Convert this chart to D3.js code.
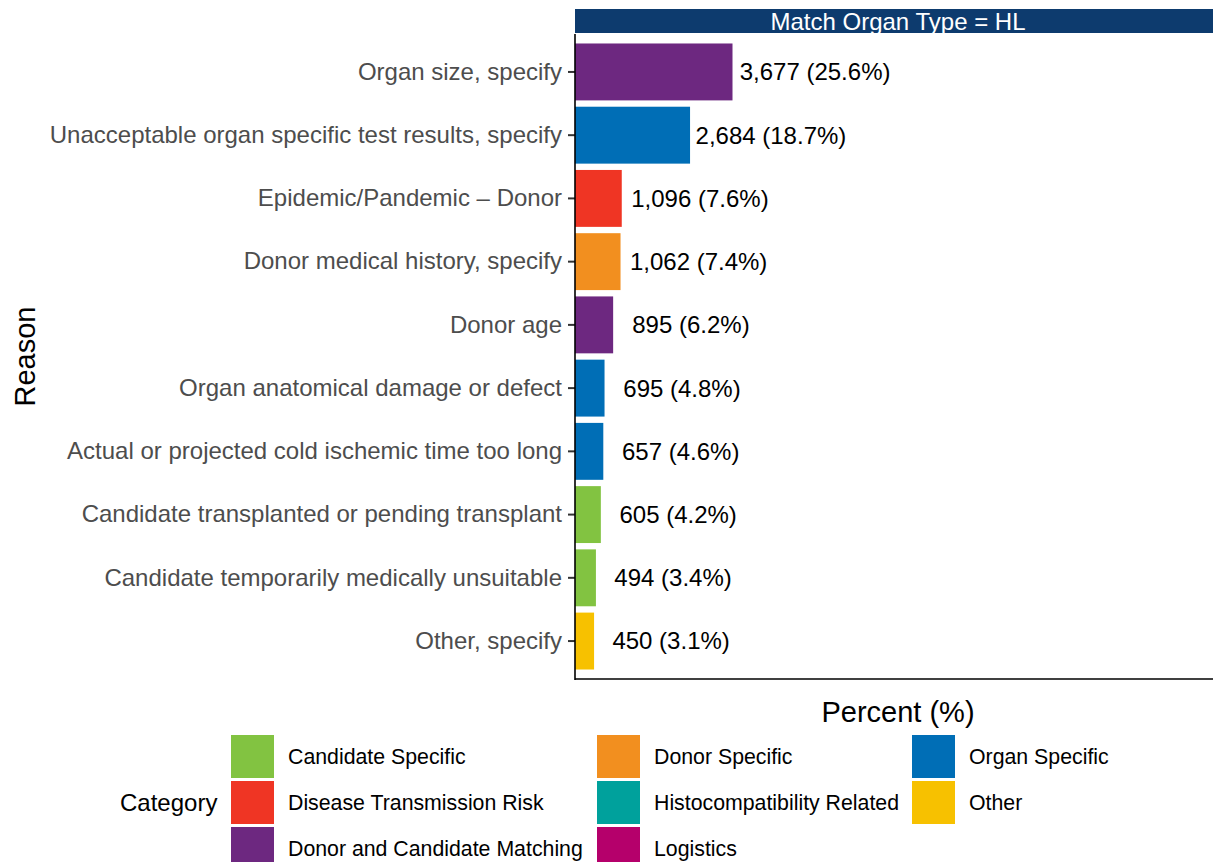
<!DOCTYPE html>
<html>
<head>
<meta charset="utf-8">
<script src="https://cdn.jsdelivr.net/npm/d3@7"></script>
<style>
  body { margin: 0; background: #fff; }
  text { font-family: "Liberation Sans", Arial, sans-serif; }
</style>
</head>
<body>
<script>
// data
const reasons = [
  "Organ size, specify",
  "Unacceptable organ specific test results, specify",
  "Epidemic/Pandemic \u2013 Donor",
  "Donor medical history, specify",
  "Donor age",
  "Organ anatomical damage or defect",
  "Actual or projected cold ischemic time too long",
  "Candidate transplanted or pending transplant",
  "Candidate temporarily medically unsuitable",
  "Other, specify"
];
const counts = [3677, 2684, 1096, 1062, 895, 695, 657, 605, 494, 450];
const percents = [25.6, 18.7, 7.6, 7.4, 6.2, 4.8, 4.6, 4.2, 3.4, 3.1];
const barCategory = [
  "Donor and Candidate Matching", "Organ Specific", "Disease Transmission Risk",
  "Donor Specific", "Donor and Candidate Matching", "Organ Specific",
  "Organ Specific", "Candidate Specific", "Candidate Specific", "Other"
];
const categories = [
  "Candidate Specific", "Disease Transmission Risk", "Donor and Candidate Matching",
  "Donor Specific", "Histocompatibility Related", "Logistics",
  "Organ Specific", "Other"
];
const categoryColors = [
  "#82c341", "#ef3524", "#6d2880",
  "#f28f1f", "#00a19c", "#b5006b",
  "#006eb6", "#f7c100"
];

const W = 1213, H = 862;
const svg = d3.select("body").append("svg")
    .attr("width", W).attr("height", H);

const panel = {left: 575, right: 1221, top: 34, bottom: 679};

const x = d3.scaleLinear().domain([0, 105]).range([panel.left, panel.right]);
const y = d3.scaleBand().domain(reasons)
    .range([panel.top, panel.bottom])
    .paddingInner(0.1).paddingOuter(0.15).align(0.5);
const color = d3.scaleOrdinal().domain(categories).range(categoryColors);

const rows = reasons.map((r, i) => ({
  reason: r, count: counts[i], pct: percents[i], cat: barCategory[i]
}));

// strip
svg.append("rect")
    .attr("x", panel.left).attr("y", 9)
    .attr("width", panel.right - panel.left).attr("height", 24)
    .attr("fill", "#0d3b6e");
svg.append("text")
    .attr("x", (panel.left + panel.right) / 2).attr("y", 29.5)
    .attr("text-anchor", "middle").attr("fill", "#fff")
    .style("font-size", "24px")
    .text("Match Organ Type = HL");

// bars
svg.append("g").selectAll("rect")
    .data(rows)
    .enter()
    .append("rect")
        .attr("x", x(0))
        .attr("y", d => y(d.reason))
        .attr("width", d => x(d.pct) - x(0))
        .attr("height", y.bandwidth())
        .attr("fill", d => color(d.cat));

// value labels (centred a bit right of the bar end)
const fmt = d3.format(",");
svg.append("g").selectAll("text")
    .data(rows)
    .enter()
    .append("text")
        .attr("x", d => x(d.pct * 1.04 + 12.4))
        .attr("y", d => y(d.reason) + y.bandwidth() / 2)
        .attr("dy", "0.35em")
        .attr("text-anchor", "middle")
        .style("font-size", "24px")
        .attr("fill", "#000")
        .text(d => fmt(d.count) + " (" + d.pct.toFixed(1) + "%)");

// y axis
const yAxis = svg.append("g")
    .attr("transform", `translate(${panel.left},0)`)
    .call(d3.axisLeft(y).tickSize(7).tickPadding(6));
yAxis.select(".domain").remove();
yAxis.selectAll(".tick line").attr("stroke", "#333").attr("stroke-width", 2);
yAxis.selectAll(".tick text")
    .attr("fill", "#4d4d4d")
    .style("font-size", "24px")
    .style("font-family", "'Liberation Sans', Arial, sans-serif");

// axis lines
svg.append("line")
    .attr("x1", panel.left).attr("x2", panel.left)
    .attr("y1", panel.top).attr("y2", panel.bottom + 1)
    .attr("stroke", "#000").attr("stroke-width", 1.6);
svg.append("line")
    .attr("x1", panel.left).attr("x2", W)
    .attr("y1", panel.bottom).attr("y2", panel.bottom)
    .attr("stroke", "#000").attr("stroke-width", 1.6);

// axis titles
svg.append("text")
    .attr("transform", `translate(35,${(panel.top + panel.bottom) / 2}) rotate(-90)`)
    .attr("text-anchor", "middle")
    .style("font-size", "29px")
    .text("Reason");
svg.append("text")
    .attr("x", (panel.left + panel.right) / 2).attr("y", 722)
    .attr("text-anchor", "middle")
    .style("font-size", "29px")
    .text("Percent (%)");

// legend
const legend = svg.append("g");
legend.append("text")
    .attr("x", 120).attr("y", 811)
    .style("font-size", "24px")
    .text("Category");

const colX = [231, 597, 912];
const rowY = [735, 781, 827];
const key = legend.selectAll("g.key")
    .data(categories)
    .enter()
    .append("g").attr("class", "key")
    .attr("transform", (d, i) => `translate(${colX[Math.floor(i / 3)]},${rowY[i % 3]})`);
key.append("rect")
    .attr("width", 43).attr("height", 43)
    .attr("fill", d => color(d));
key.append("text")
    .attr("x", 57).attr("y", 22).attr("dy", "0.35em")
    .style("font-size", "21.3px")
    .text(d => d);
</script>
</body>
</html>
